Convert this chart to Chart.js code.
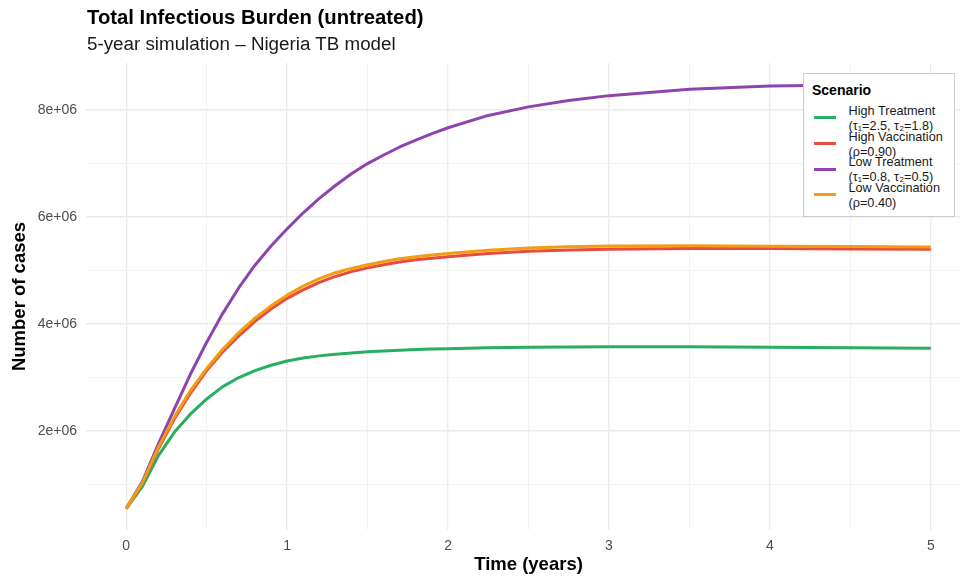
<!DOCTYPE html>
<html>
<head>
<meta charset="utf-8">
<script src="https://cdn.jsdelivr.net/npm/chart.js@4/dist/chart.umd.min.js"></script>
<style>
  html, body { margin: 0; padding: 0; background: #fff; overflow: hidden; }
  body { width: 960px; height: 581px; position: relative; font-family: "Liberation Sans", Arial, sans-serif; }
  #wrap { position: absolute; left: 0; top: 0; width: 972px; height: 581px; }
  .title { position: absolute; left: 87px; top: 7px; font-size: 20.3px; line-height: 20px; font-weight: bold; color: #000; white-space: nowrap; }
  .subtitle { position: absolute; left: 87px; top: 34.5px; font-size: 18.8px; line-height: 18px; color: #1a1a1a; white-space: nowrap; }
  #legend { position: absolute; left: 802.5px; top: 72.5px; width: 150px; height: 142px; border: 1.5px solid #cbcbcb; background: #fff; }
  #legend .lt { position: absolute; left: 8.5px; top: 9px; font-size: 14px; line-height: 14px; font-weight: bold; color: #000; }
  #legend .key { position: absolute; left: 10px; width: 22px; height: 3px; }
  #legend .txt { position: absolute; left: 45px; font-size: 12.7px; line-height: 15px; color: #1a1a1a; white-space: nowrap; }
</style>
</head>
<body>
<div id="wrap"><canvas id="grafico"></canvas></div>
<div class="title">Total Infectious Burden (untreated)</div>
<div class="subtitle">5-year simulation – Nigeria TB model</div>
<div id="legend"><div class="lt">Scenario</div></div>
<script>
// time in years, values in millions of cases
const times = [0, 0.1, 0.2, 0.3, 0.4, 0.5, 0.6, 0.7, 0.8, 0.9, 1.0,
  1.1, 1.2, 1.3, 1.4, 1.5, 1.6, 1.7, 1.8, 1.9, 2.0,
  2.25, 2.5, 2.75, 3, 3.5, 4, 4.5, 5];

const highTreatment = [0.55, 0.96, 1.54, 1.98, 2.32, 2.60, 2.83, 3.00, 3.13, 3.23, 3.31,
  3.365, 3.405, 3.435, 3.46, 3.48, 3.497, 3.51, 3.522, 3.532, 3.54,
  3.556, 3.567, 3.573, 3.576, 3.575, 3.567, 3.557, 3.547];
const highVaccination = [0.55, 1.02, 1.67, 2.23, 2.71, 3.13, 3.48, 3.78, 4.05, 4.28, 4.48,
  4.64, 4.78, 4.89, 4.98, 5.05, 5.11, 5.16, 5.20, 5.23, 5.26,
  5.32, 5.36, 5.385, 5.40, 5.41, 5.41, 5.405, 5.40];
const lowTreatment = [0.55, 1.05, 1.76, 2.42, 3.07, 3.66, 4.20, 4.68, 5.10, 5.46, 5.78,
  6.08, 6.35, 6.59, 6.81, 7.00, 7.16, 7.31, 7.44, 7.56, 7.67,
  7.90, 8.06, 8.18, 8.27, 8.39, 8.45, 8.47, 8.47];
const lowVaccination = [0.55, 1.03, 1.70, 2.27, 2.76, 3.17, 3.53, 3.84, 4.11, 4.34, 4.54,
  4.71, 4.85, 4.96, 5.04, 5.11, 5.17, 5.22, 5.26, 5.29, 5.32,
  5.38, 5.42, 5.445, 5.46, 5.465, 5.455, 5.45, 5.44];

const scenarioNames = [
  ["High Treatment", "(τ₁=2.5, τ₂=1.8)"],
  ["High Vaccination", "(ρ=0.90)"],
  ["Low Treatment", "(τ₁=0.8, τ₂=0.5)"],
  ["Low Vaccination", "(ρ=0.40)"]
];
const scenarioColors = ["#27ae60", "#e74c3c", "#8e44ad", "#f39c12"];
const series = [highTreatment, highVaccination, lowTreatment, lowVaccination];

const xTicks = [0, 0.5, 1, 1.5, 2, 2.5, 3, 3.5, 4, 4.5, 5];
const yTicks = [1, 2, 3, 4, 5, 6, 7, 8];

Chart.defaults.font.family = "'Liberation Sans', Arial, sans-serif";

const datasets = series.map((vals, i) => ({
  label: scenarioNames[i].join(" "),
  data: times.map((t, j) => ({ x: t, y: vals[j] })),
  borderColor: scenarioColors[i],
  borderWidth: 3,
  pointRadius: 0,
  tension: 0,
  fill: false,
  borderJoinStyle: "round",
  order: 3 - i
}));

const chart = new Chart(document.getElementById("grafico"), {
  type: "line",
  data: { datasets: datasets },
  options: {
    responsive: true,
    maintainAspectRatio: false,
    animation: false,
    layout: { padding: { top: 63, right: 1, left: 0, bottom: 0 } },
    plugins: {
      legend: { display: false },
      tooltip: { enabled: false }
    },
    scales: {
      x: {
        type: "linear",
        min: -0.25,
        max: 5.25,
        afterBuildTicks: s => { s.ticks = xTicks.map(v => ({ value: v })); },
        afterFit: s => { s.height = 51; },
        border: { display: false },
        grid: {
          drawTicks: false,
          color: c => Number.isInteger(c.tick.value) ? "#ebebeb" : "#f3f3f3",
          lineWidth: c => Number.isInteger(c.tick.value) ? 1.4 : 1
        },
        ticks: {
          autoSkip: false,
          maxRotation: 0,
          padding: 8,
          color: "#4d4d4d",
          font: { size: 14 },
          callback: v => Number.isInteger(v) ? String(v) : ""
        },
        title: {
          display: true,
          text: "Time (years)",
          color: "#000",
          font: { size: 18.5, weight: "bold" },
          padding: { top: 0, bottom: 4.5 }
        }
      },
      y: {
        min: 0.15,
        max: 8.88,
        afterBuildTicks: s => { s.ticks = yTicks.map(v => ({ value: v })); },
        afterFit: s => { s.width = 86; },
        border: { display: false },
        grid: {
          drawTicks: false,
          color: c => c.tick.value % 2 === 0 ? "#ebebeb" : "#f3f3f3",
          lineWidth: c => c.tick.value % 2 === 0 ? 1.4 : 1
        },
        ticks: {
          autoSkip: false,
          padding: 9,
          color: "#4d4d4d",
          font: { size: 14 },
          callback: v => v % 2 === 0 ? v + "e+06" : ""
        },
        title: {
          display: true,
          text: "Number of cases",
          color: "#000",
          font: { size: 18.5, weight: "bold" },
          padding: { top: 9, bottom: 0 }
        }
      }
    }
  }
});

// legend with two-line labels
const legend = document.getElementById("legend");
scenarioNames.forEach((lines, i) => {
  const cy = 44.2 + i * 25.75;
  const key = document.createElement("div");
  key.className = "key";
  key.style.top = (cy - 1.5) + "px";
  key.style.background = scenarioColors[i];
  legend.appendChild(key);
  lines.forEach((line, k) => {
    const t = document.createElement("div");
    t.className = "txt";
    t.style.top = (cy - 13.9 + k * 15) + "px";
    t.textContent = line;
    legend.appendChild(t);
  });
});
</script>
</body>
</html>
